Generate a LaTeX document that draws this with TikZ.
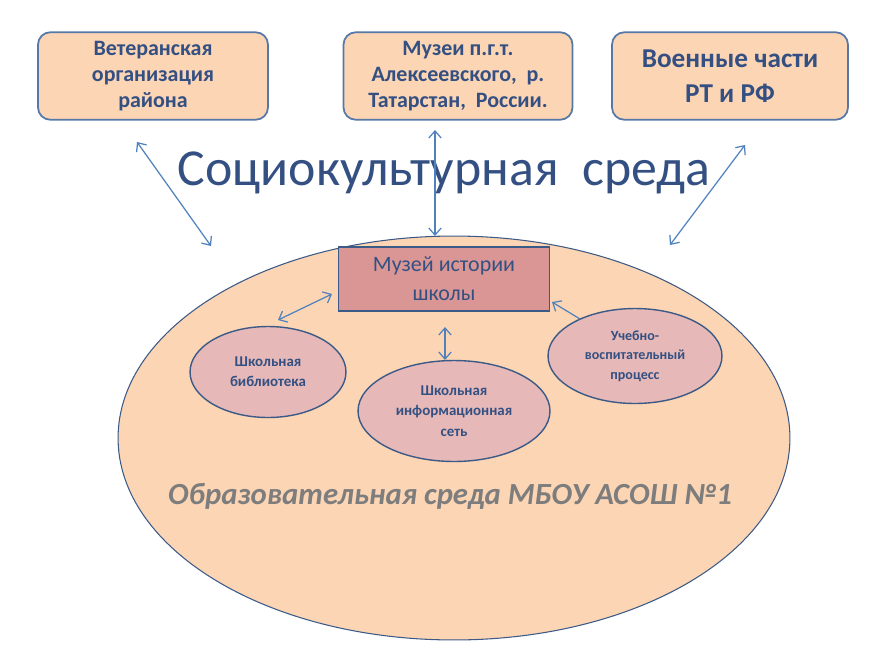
\documentclass[tikz,border=0pt]{standalone}
\usepackage{fontspec}
\setmainfont{Carlito}
\usetikzlibrary{shapes.geometric,arrows.meta}
\definecolor{peach}{RGB}{252,213,180}
\definecolor{frameblue}{RGB}{86,120,168}
\definecolor{inkblue}{RGB}{52,80,130}
\definecolor{arrowblue}{RGB}{79,129,189}
\definecolor{rosebox}{RGB}{217,150,148}
\definecolor{rosell}{RGB}{230,185,184}
\definecolor{edgeblue}{RGB}{60,90,135}
\definecolor{greytext}{RGB}{125,125,125}
\tikzset{
  partner/.style={draw=frameblue, line width=1pt, fill=peach, rounded corners=7pt,
    align=center, text=inkblue, font=\bfseries\fontsize{12.5}{15}\selectfont,
    minimum width=4.6cm, minimum height=1.75cm, inner sep=2pt},
  unit/.style={ellipse, draw=edgeblue, line width=0.8pt, fill=rosell, align=center,
    text=inkblue, font=\bfseries\fontsize{8.5}{11.5}\selectfont, inner sep=0pt},
  link/.style={{Straight Barb[length=4pt,width=7pt]}-{Straight Barb[length=4pt,width=7pt]}, draw=arrowblue, line width=0.7pt},
}
\begin{document}
\begin{tikzpicture}[x=0.02cm, y=-0.02cm]
    \useasboundingbox (0,0) rectangle (879,660);
    % school environment
    \node[ellipse, draw=edgeblue, fill=peach, line width=0.6pt, minimum width=13.44cm, minimum height=8.08cm] (edu) at (454,438) {};
    \node[font=\bfseries\itshape\fontsize{17.5}{21}\selectfont, text=greytext] (edutitle) at (450,496) {Образовательная среда МБОУ АСОШ №1};
    % partners
    \node[partner] (vet) at (153,76) {Ветеранская\\организация\\района};
    \node[partner, minimum width=4.58cm] (mus) at (458,76) {Музеи п.г.т.\\Алексеевского,~~р.\\Татарстан,~~России.};
    \node[partner, minimum width=4.72cm, font=\bfseries\fontsize{15.5}{20}\selectfont] (mil) at (730,76) {Военные части\\РТ и РФ};
    \node[text=inkblue, font=\fontsize{29.5}{36}\selectfont] (socio) at (444,173) {Социокультурная~~среда};
    %\draw[loosely dotted] (0,0) grid[step=50] (879,660);
    \coordinate (vetA) at (137,142); \coordinate (vetB) at (211,246);
    \coordinate (musA) at (435,130); \coordinate (musB) at (435,236);
    \coordinate (milA) at (745,145); \coordinate (milB) at (670,245);
    \foreach \a in {vet,mus,mil}
    \draw[link] (\a A) -- (\a B);
    % inside the school
    \node[draw=edgeblue, line width=0.9pt, fill=rosebox, minimum width=4.22cm, minimum height=1.28cm, align=center, text=inkblue, font=\fontsize{12.5}{16.5}\selectfont] (hist) at (444,279) {Музей истории\\школы};
    \node[unit, minimum width=3.12cm, minimum height=1.82cm] (lib) at (268,372) {Школьная\\библиотека};
    \node[unit, minimum width=3.84cm, minimum height=2.02cm] (net) at (454,411) {Школьная\\информационная\\сеть};
    \node[unit, minimum width=3.48cm, minimum height=1.9cm, font=\bfseries\fontsize{8}{11}\selectfont] (proc) at (635,356) {Учебно-\\воспитательный\\процесс};
    \coordinate (libA) at (278,320); \coordinate (libB) at (332,294);
    \coordinate (netA) at (445,360); \coordinate (netB) at (445,327);
    \draw[link] (libA) -- (libB);
    \draw[link] (netA) -- (netB);
    \coordinate (procA) at (580,319); \coordinate (procB) at (552,302);
    \draw[link, {Straight Barb[length=4pt,width=7pt]}-] (procB) -- (procA);
\end{tikzpicture}
\end{document}
